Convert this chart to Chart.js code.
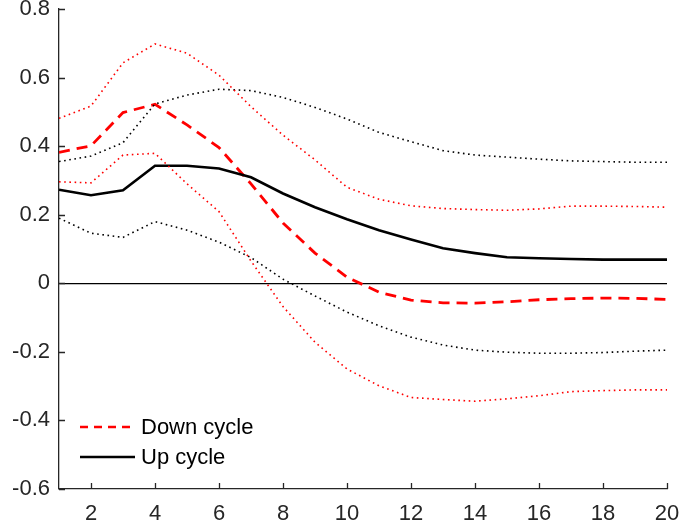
<!DOCTYPE html>
<html>
<head>
<meta charset="utf-8">
<script src="https://cdn.jsdelivr.net/npm/chart.js@4"></script>
<style>
  body { margin: 0; background: #fff; }
  #wrap { width: 680px; height: 528px; }
</style>
</head>
<body>
<div id="wrap"><canvas id="irfChart" width="680" height="528"></canvas></div>
<script>
const periods = [1, 2, 3, 4, 5, 6, 7, 8, 9, 10, 11, 12, 13, 14, 15, 16, 17, 18, 19, 20];

const downCycle = [0.382, 0.401, 0.498, 0.522, 0.462, 0.396, 0.290, 0.176, 0.088, 0.018,
                   -0.026, -0.049, -0.057, -0.058, -0.054, -0.048, -0.045, -0.043, -0.044, -0.047];
const downUpper = [0.481, 0.517, 0.643, 0.698, 0.671, 0.607, 0.515, 0.432, 0.360, 0.280,
                   0.245, 0.226, 0.218, 0.215, 0.213, 0.217, 0.225, 0.225, 0.224, 0.222];
const downLower = [0.296, 0.293, 0.374, 0.379, 0.290, 0.209, 0.065, -0.068, -0.172, -0.250,
                   -0.299, -0.333, -0.339, -0.344, -0.337, -0.328, -0.316, -0.313, -0.311, -0.311];

const upCycle = [0.273, 0.257, 0.271, 0.343, 0.343, 0.335, 0.309, 0.262, 0.222, 0.187,
                 0.155, 0.128, 0.102, 0.088, 0.076, 0.073, 0.071, 0.069, 0.069, 0.069];
const upUpper = [0.355, 0.371, 0.410, 0.523, 0.549, 0.566, 0.562, 0.542, 0.513, 0.479,
                 0.440, 0.413, 0.387, 0.374, 0.368, 0.362, 0.357, 0.355, 0.353, 0.353];
const upLower = [0.190, 0.146, 0.134, 0.180, 0.155, 0.120, 0.075, 0.012, -0.037, -0.084,
                 -0.124, -0.157, -0.180, -0.195, -0.201, -0.204, -0.204, -0.202, -0.198, -0.195];

const xTicks = [2, 4, 6, 8, 10, 12, 14, 16, 18, 20];
const yTicks = [-0.6, -0.4, -0.2, 0, 0.2, 0.4, 0.6, 0.8];
const legendLabels = ['Down cycle', 'Up cycle'];

const axisColor = '#262626';
const fontFamily = '"Liberation Sans", Arial, sans-serif';

function toPoints(values) {
    return values.map((v, i) => ({ x: periods[i], y: v }));
}

function serie(values, color, width, dash) {
    return {
        data: toPoints(values),
        borderColor: color,
        borderWidth: width,
        borderDash: dash,
        pointRadius: 0,
        tension: 0,
        fill: false
    };
}

// inward tick marks and the legend in the lower-left corner
const decoPlugin = {
    id: 'deco',
    afterDraw(chart) {
        const ctx = chart.ctx;
        const x = chart.scales.x;
        const y = chart.scales.y;
        ctx.save();
        ctx.strokeStyle = axisColor;
        ctx.lineWidth = 1.3;
        ctx.beginPath();
        xTicks.forEach(t => {
            const px = Math.round(x.getPixelForValue(t)) + 0.5;
            ctx.moveTo(px, y.bottom);
            ctx.lineTo(px, y.bottom - 6);
        });
        yTicks.forEach(t => {
            const py = Math.round(y.getPixelForValue(t)) + 0.5;
            ctx.moveTo(x.left, py);
            ctx.lineTo(x.left + 6, py);
        });
        ctx.stroke();

        const items = [
            { color: '#ff0000', dash: [8, 6] },
            { color: '#000000', dash: [] }
        ];
        ctx.font = '22px ' + fontFamily;
        ctx.textBaseline = 'middle';
        ctx.fillStyle = '#000';
        items.forEach((it, i) => {
            const ly = 427 + i * 30;
            ctx.beginPath();
            ctx.strokeStyle = it.color;
            ctx.lineWidth = 2.5;
            ctx.setLineDash(it.dash);
            ctx.moveTo(80, ly);
            ctx.lineTo(135, ly);
            ctx.stroke();
            ctx.setLineDash([]);
            ctx.fillText(legendLabels[i], 141, ly + 1);
        });
        ctx.restore();
    }
};

new Chart(document.getElementById('irfChart'), {
    type: 'line',
    data: {
        datasets: [
            serie(downUpper, '#ff0000', 1.6, [1.6, 3.6]),
            serie(downLower, '#ff0000', 1.6, [1.6, 3.6]),
            serie(upUpper, '#000000', 1.6, [1.6, 3.6]),
            serie(upLower, '#000000', 1.6, [1.6, 3.6]),
            serie(upCycle, '#000000', 2.6, []),
            serie(downCycle, '#ff0000', 2.8, [11, 7])
        ]
    },
    options: {
        responsive: false,
        animation: false,
        layout: { padding: { top: 9, right: 13, left: 0, bottom: 0 } },
        plugins: {
            legend: { display: false },
            tooltip: { enabled: false }
        },
        scales: {
            x: {
                type: 'linear',
                min: 1,
                max: 20,
                afterBuildTicks: s => { s.ticks = xTicks.map(v => ({ value: v })); },
                afterFit: s => {
                    s.height = 39;
                    s.paddingLeft = 0;
                    s.paddingRight = 0;
                },
                grid: { display: false },
                border: { display: true, color: axisColor, width: 1.3 },
                ticks: {
                    color: axisColor,
                    font: { family: fontFamily, size: 22 },
                    padding: 4,
                    maxRotation: 0
                }
            },
            y: {
                type: 'linear',
                min: -0.6,
                max: 0.8,
                afterBuildTicks: s => { s.ticks = yTicks.map(v => ({ value: v })); },
                afterFit: s => {
                    s.width = 59;
                    s.paddingTop = 0;
                    s.paddingBottom = 0;
                },
                grid: {
                    drawTicks: false,
                    lineWidth: 1.3,
                    color: c => (c.tick && c.tick.value === 0 ? '#000000' : 'rgba(0,0,0,0)')
                },
                border: { display: true, color: axisColor, width: 1.3 },
                ticks: {
                    color: axisColor,
                    font: { family: fontFamily, size: 22 },
                    padding: 9,
                    callback: v => String(Math.round(v * 10) / 10)
                }
            }
        }
    },
    plugins: [decoPlugin]
});
</script>
</body>
</html>
